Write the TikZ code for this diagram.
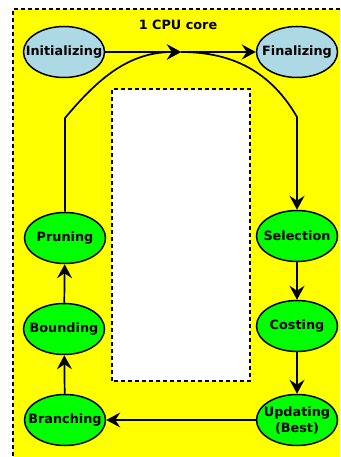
\documentclass[tikz,border=0pt]{standalone}
\usepackage{fontspec}
\setmainfont{DejaVu Sans}
\usetikzlibrary{shapes.geometric,arrows.meta}
\definecolor{core}{rgb}{1,1,0}
\definecolor{step}{rgb}{0,1,0}
\definecolor{io}{rgb}{0.68,0.85,0.9}

\begin{document}
\begin{tikzpicture}[x=1pt,y=1pt,
            state/.style = {ellipse,
            draw, line width=1.5pt,
            minimum width = 81pt, minimum height = 51pt,
            inner xsep=-10pt, inner ysep=0pt, align=center,
            font=\fontsize{12.8}{16}\selectfont\bfseries,
            fill=step},
            ionode/.style = {state, fill=io},
            flow/.style = {line width=1.7pt,
            -{Stealth[length=14pt,width=15pt,inset=5pt]}},
            border/.style = {line width=2pt, dash pattern=on 4pt off 3pt}]
        \useasboundingbox (0,0) rectangle (340,457);
        \clip (0,0) rectangle (340,457);

        % Core area
        \fill[core] (13,-20) rectangle (360,448);
        \draw[border] (13,-20) -- (13,448) -- (360,448);
        \node[font=\fontsize{12.8}{13}\selectfont\bfseries] (title) at (178,432) {1 CPU core};

        % Inner box
        \fill[white] (112,76) rectangle (250,368);
        \draw[border] (112,76) rectangle (250,368);

        % Start and end
        \node[ionode] (init) at (64,405) {Initializing};
        \node[ionode] (final) at (297,405) {Finalizing};

        % Loop steps
        \node[state] (select) at (297,221) {Selection};
        \node[state] (cost) at (297,131) {Costing};
        \node[state] (update) at (297,37) {Updating\\(Best)};
        \node[state] (branch) at (65,37) {Branching};
        \node[state] (bound) at (64,128) {Bounding};
        \node[state] (prune) at (65,219) {Pruning};

        % Meeting point
        \coordinate (merge) at (181,405);
        \coordinate (up) at (65,339);
        \coordinate (down) at (297,340);

        % Arrows
        \draw[flow] (init) -- (merge);
        \draw[flow] (merge) -- (final);
        \draw[flow] (prune) -- (up) to[out=50,in=180] (merge);
        \draw[flow] (merge) to[out=0,in=120] (down) -- (select);
        \draw[flow] (select) -- (cost);
        \draw[flow] (cost) -- (update);
        \draw[flow] (update) -- (branch);
        \draw[flow] (branch) -- (bound);
        \draw[flow] (bound) -- (prune);
    \end{tikzpicture}
\end{document}
